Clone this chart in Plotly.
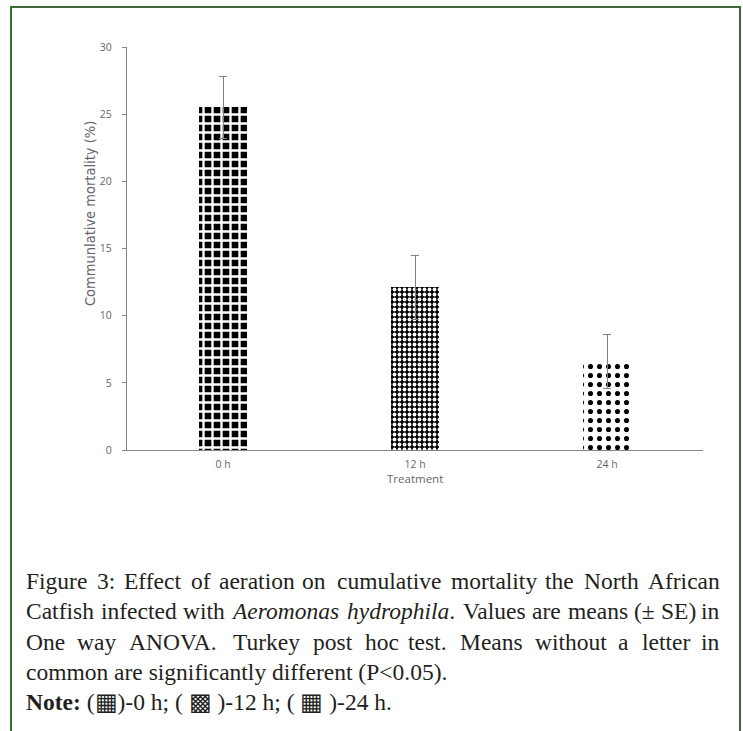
import plotly.graph_objects as go

# ---------------- data ----------------
categories = ["0 h", "12 h", "24 h"]
mortality = [25.5, 12.1, 6.6]
se = [2.3, 2.4, 2.0]
y_ticks = [0, 5, 10, 15, 20, 25, 30]

y_title = "Communlative mortality (%)"
x_title = "Treatment"

caption_lines = [
    "Figure 3: Effect of aeration on cumulative mortality the North African",
    "Catfish infected with <i>Aeromonas</i> <i>hydrophila</i>. Values are means (± SE) in",
    "One way ANOVA. Turkey post hoc test. Means without a letter in",
]
caption_last = "common are significantly different (P<0.05)."
note_line = "<b>Note:</b> (▦)-0 h; ( ▩ )-12 h; ( ▦ )-24 h."

# ---------------- layout geometry (pixels) ----------------
W, H = 743, 731
PL, PR, PT, PB = 127, 703, 47, 450   # plot area


def px(x):
    return (x - PL) / (PR - PL)


def py(y):
    return (PB - y) / (PB - PT)


# approximate Times/Liberation Serif advance widths (per 1000 em)
TW = {}
for ch, w in zip("abcdefghijklmnopqrstuvwxyz",
                 [444, 500, 444, 500, 444, 333, 500, 500, 278, 278, 500, 278, 778,
                  500, 500, 500, 500, 333, 389, 278, 500, 500, 722, 500, 500, 444]):
    TW[ch] = w
for ch, w in zip("ABCDEFGHIJKLMNOPQRSTUVWXYZ",
                 [722, 667, 667, 722, 611, 556, 722, 722, 333, 389, 722, 611, 889,
                  722, 722, 556, 722, 667, 556, 611, 722, 722, 944, 722, 722, 611]):
    TW[ch] = w
for ch in "0123456789":
    TW[ch] = 500
TW.update({" ": 250, ".": 250, ",": 250, ":": 278, "(": 333, ")": 333,
           "±": 564, "<": 564, "-": 333})


def strip_tags(s):
    for t in ("<i>", "</i>", "<b>", "</b>"):
        s = s.replace(t, "")
    return s


def text_w(s, size):
    return sum(TW.get(c, 500) for c in strip_tags(s)) * size / 1000.0 * 1.02 + 1.5


CAP_SIZE = 23.5
CAP_FONT = dict(family="Liberation Serif, Times New Roman, serif", size=CAP_SIZE, color="#231f20")
CAP_L, CAP_R = 24, 722
line_y = [581, 611, 642, 672, 702]

annotations = []
for li, line in enumerate(caption_lines):
    words = line.split(" ")
    widths = [text_w(w, CAP_SIZE) for w in words]
    n = len(words)
    gap = (CAP_R - CAP_L - sum(widths)) / (n - 1)
    half = n // 2
    x = CAP_L
    for wi in range(half):
        annotations.append(dict(x=px(x), y=py(line_y[li]), xref="paper", yref="paper",
                                text=words[wi], showarrow=False, xanchor="left",
                                yanchor="middle", font=CAP_FONT))
        x += widths[wi] + gap
    xr = CAP_R
    for wi in range(n - 1, half - 1, -1):
        annotations.append(dict(x=px(xr), y=py(line_y[li]), xref="paper", yref="paper",
                                text=words[wi], showarrow=False, xanchor="right",
                                yanchor="middle", font=CAP_FONT))
        xr -= widths[wi] + gap

annotations.append(dict(x=px(CAP_L), y=py(line_y[3]), xref="paper", yref="paper",
                        text=caption_last, showarrow=False, xanchor="left", yanchor="middle",
                        font=CAP_FONT))
annotations.append(dict(x=px(CAP_L), y=py(line_y[4]), xref="paper", yref="paper",
                        text=note_line, showarrow=False, xanchor="left", yanchor="middle",
                        font=CAP_FONT))

# y-axis title as rotated annotation
annotations.append(dict(x=px(90), y=py(214), xref="paper", yref="paper", text=y_title,
                        showarrow=False, textangle=-90, xanchor="center", yanchor="middle",
                        font=dict(family="DejaVu Sans Condensed, DejaVu Sans, sans-serif",
                                  size=14.5, color="#666666")))
# x-axis title
annotations.append(dict(x=px(415), y=py(479), xref="paper", yref="paper", text=x_title,
                        showarrow=False, xanchor="center", yanchor="middle",
                        font=dict(family="Open Sans, sans-serif", size=11.5, color="#666666")))

patterns = [
    dict(shape="+", fgcolor="white", bgcolor="black", size=9, solidity=0.45, fillmode="replace"),
    dict(shape=".", fgcolor="white", bgcolor="black", size=5, solidity=0.45, fillmode="replace"),
    dict(shape=".", fgcolor="black", bgcolor="white", size=9, solidity=0.25, fillmode="replace"),
]

fig = go.Figure()
for cat, val, err, pat in zip(categories, mortality, se, patterns):
    fig.add_trace(go.Bar(
        x=[cat], y=[val],
        width=0.245,
        marker=dict(color="white", pattern=pat, line=dict(width=0)),
        error_y=dict(type="data", array=[err], symmetric=True, color="#808080",
                     thickness=1, width=4),
        showlegend=False,
    ))

border_path = f"M {px(11)} {py(740)} L {px(11)} {py(7)} L {px(740)} {py(7)} L {px(740)} {py(740)}"
shapes = [dict(type="path", xref="paper", yref="paper", path=border_path,
               line=dict(color="#3d6b35", width=2))]

fig.update_layout(
    width=W, height=H,
    margin=dict(l=PL, r=W - PR, t=PT, b=H - PB, pad=0),
    paper_bgcolor="white", plot_bgcolor="white",
    annotations=annotations, shapes=shapes,
    bargap=0,
    xaxis=dict(type="category", categoryorder="array", categoryarray=categories,
               showline=True, linecolor="#868686", linewidth=1.2, ticks="",
               showgrid=False, zeroline=False, ticklabelstandoff=4,
               tickfont=dict(family="Open Sans, sans-serif", size=10.5, color="#666666")),
    yaxis=dict(range=[0, 30], tickvals=y_ticks, showline=True, linecolor="#868686",
               linewidth=1.2, ticks="outside", ticklen=4, tickcolor="#868686",
               showgrid=False, zeroline=False, ticklabelstandoff=8,
               tickfont=dict(family="Open Sans, sans-serif", size=10.5, color="#666666")),
)

fig.write_html("out.html", config={"displayModeBar": False},
               post_script="document.body.style.margin='0';")
